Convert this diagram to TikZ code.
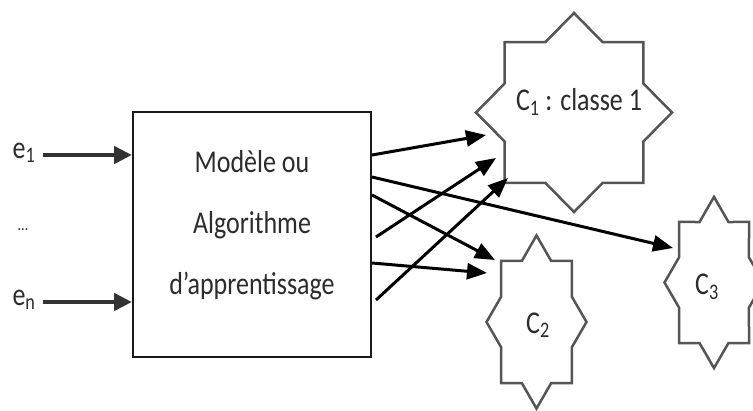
\documentclass[tikz,border=0pt]{standalone}
\usepackage{fontspec}
\setmainfont{Carlito}
\usetikzlibrary{arrows.meta,calc}

\definecolor{ink}{HTML}{2C2C2C}
\definecolor{stargray}{HTML}{555555}

\tikzset{
  lbl/.style={font=\fontsize{26}{50}\selectfont, text=ink, inner sep=0pt, yscale=1.22},
  modelbox/.style={draw=black!90, line width=2pt, fill=white},
  starline/.style={draw=stargray, line width=2.5pt, line join=miter, fill=white},
  inarrow/.style={line width=4.5pt, draw=black!80, -{Triangle[length=18pt,width=17pt]}},
  outarrow/.style={line width=3pt, draw=black, -{Triangle[length=20pt,width=16pt]}},
}

% eight-point star: centre (#1,#2), half-widths #3 (x) and #4 (y)
\newcommand\eightstar[4]{%
  \path[starline] ({#1+#3},{#2})
    \foreach \k/\r in {1/0.765,2/1,3/0.765,4/1,5/0.765,6/1,7/0.765,8/1,
                       9/0.765,10/1,11/0.765,12/1,13/0.765,14/1,15/0.765}
      { -- ({#1+\r*#3*cos(\k*22.5)},{#2+\r*#4*sin(\k*22.5)}) } -- cycle;}

\begin{document}
\begin{tikzpicture}[x=1pt,y=-1pt]
  \useasboundingbox (0,0) rectangle (753,410);
  \clip (0,0) rectangle (753,410);

  % processing block
  \node[modelbox, minimum width=238pt, minimum height=245pt, inner sep=0pt]
    (box) at (252,234.5) {};
  \node[lbl, align=center] (boxtxt) at (252,225)
    {Modèle ou\\Algorithme\\d’apprentissage};

  % class shapes
  \eightstar{574}{112.5}{98}{99.5}
  \eightstar{536.5}{322}{50}{86.5}
  \eightstar{714}{282.5}{49.5}{85.6}
  \node[lbl] (c1) at (579,102) {C\textsubscript{1} : classe 1};
  \node[lbl] (c2) at (538,325) {C\textsubscript{2}};
  \node[lbl] (c3) at (707,287) {C\textsubscript{3}};

  % inputs
  \node[lbl] (e1) at (24,153) {e\textsubscript{1}};
  \node[lbl] (dots) at (23,230) {\fontsize{14}{16}\selectfont ...};
  \node[lbl] (en) at (24,300) {e\textsubscript{n}};
  \coordinate (s1) at (43,155);
  \coordinate (sn) at (43,302);
  \draw[inarrow] (s1) -- (s1 -| box.west);
  \draw[inarrow] (sn) -- (sn -| box.west);

  % arrow ends at the classes
  \coordinate (t1) at ($(c1)+(-93,33)$);
  \coordinate (t4) at ($(c1)+(-83,56)$);
  \coordinate (t6) at ($(c1)+(-71,76)$);
  \coordinate (t2) at ($(c3)+(-34,-39)$);
  \coordinate (t3) at ($(c2)+(-43,-65)$);
  \coordinate (t5) at ($(c2)+(-51,-52)$);

  % outputs
  \draw[outarrow] ([yshift=79.5pt]box.east) -- (t1);
  \draw[outarrow] ([yshift=57.5pt]box.east) -- (t2);
  \draw[outarrow] ([yshift=39.5pt]box.east) -- (t3);
  \draw[outarrow] ([xshift=4pt,yshift=-2.5pt]box.east) -- (t4);
  \draw[outarrow] ([yshift=-28.5pt]box.east) -- (t5);
  \draw[outarrow] ([xshift=4pt,yshift=-65.5pt]box.east) -- (t6);
\end{tikzpicture}
\end{document}
